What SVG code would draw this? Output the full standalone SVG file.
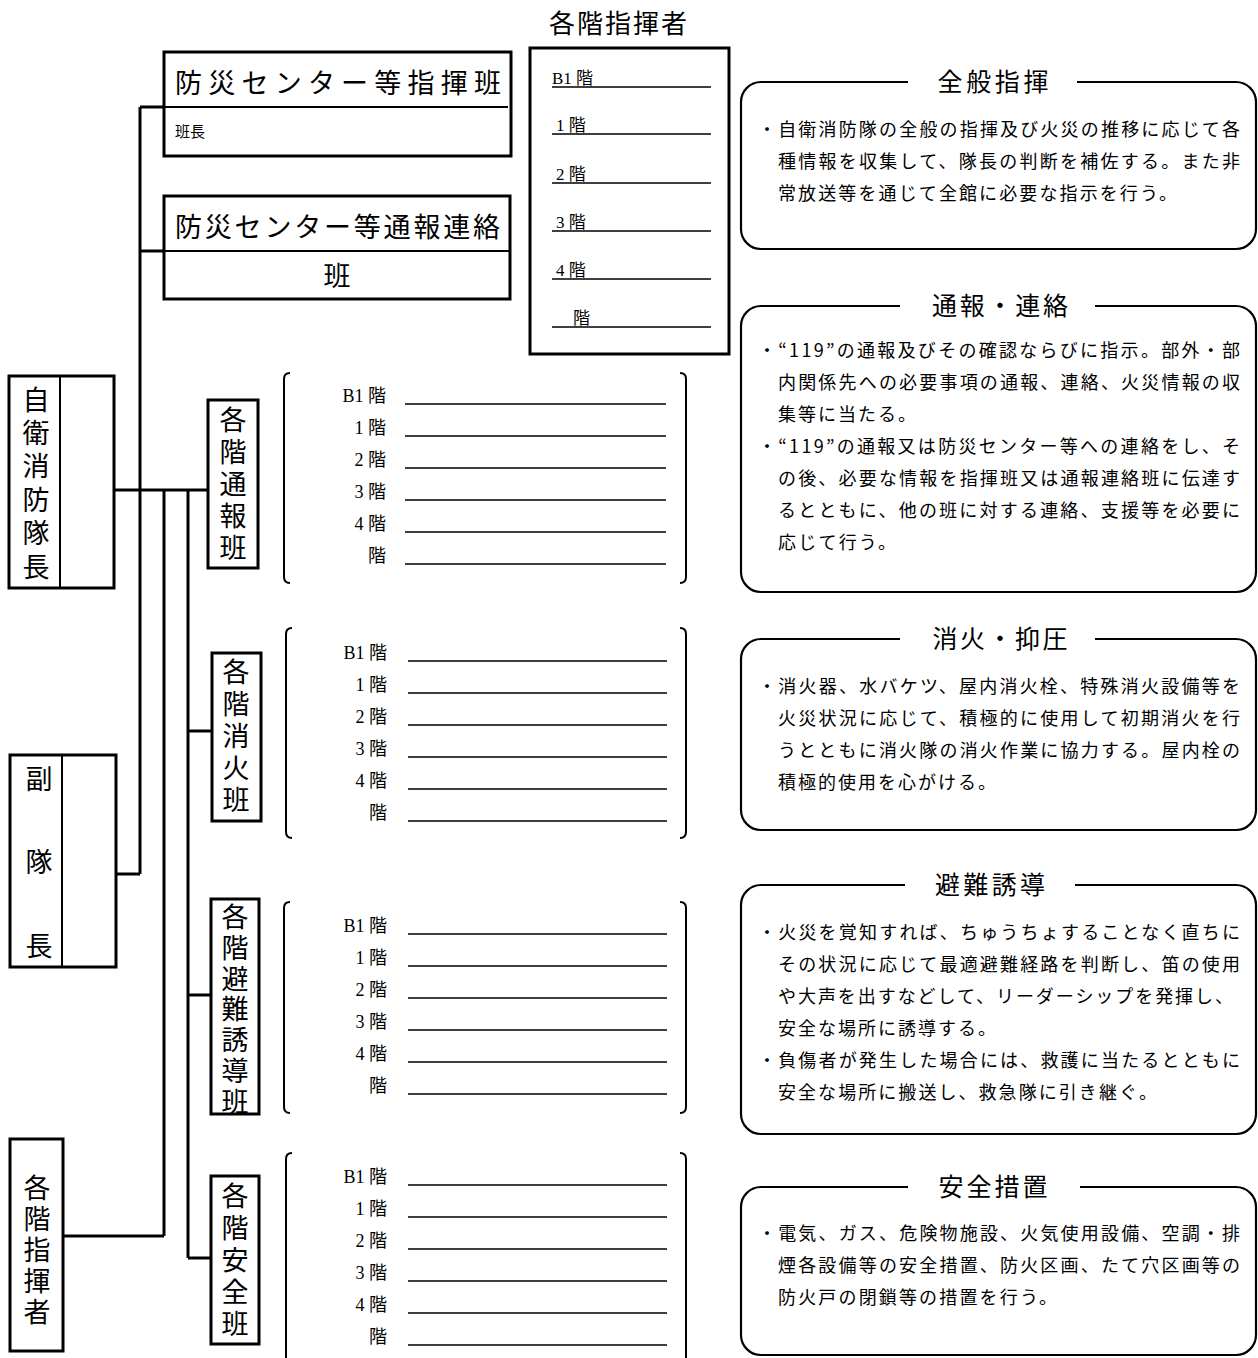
<svg xmlns="http://www.w3.org/2000/svg" width="1258" height="1358" viewBox="0 0 1258 1358">
<style>
text{font-family:"Noto Sans CJK JP",sans-serif;fill:#000}
.box{fill:#fff;stroke:#000;stroke-width:3}
.div{fill:none;stroke:#000;stroke-width:2}
.conn{fill:none;stroke:#000;stroke-width:3}
.fl{stroke:#000;stroke-width:1.5}
.br{fill:none;stroke:#000;stroke-width:2}
.rb{fill:none;stroke:#000;stroke-width:2.2}
.vt{font-size:27px;text-anchor:middle;writing-mode:vertical-rl}
.lab{font-family:"Liberation Serif","Noto Sans CJK JP",serif;font-size:18px;text-anchor:end}
.flab{font-family:"Liberation Serif","Noto Sans CJK JP",serif;font-size:17px}
.body{font-size:18px}
.ttl{font-size:25px;text-anchor:middle}
</style>

<g id="connectors">
<path class="conn" d="M114 490H208"/>
<path class="conn" d="M140 107V874"/>
<path class="conn" d="M140 107H164"/>
<path class="conn" d="M140 251H164"/>
<path class="conn" d="M116 874H140"/>
<path class="conn" d="M164 490V1236"/>
<path class="conn" d="M63 1236H164"/>
<path class="conn" d="M188 490V1258"/>
<path class="conn" d="M188 731H212"/>
<path class="conn" d="M188 995H211"/>
<path class="conn" d="M188 1258H211"/>
</g>

<g id="title-floor-commanders">
<text x="618" y="33" font-size="26" text-anchor="middle" textLength="138">各階指揮者</text>
</g>

<g id="node-center-command">
<rect class="box" x="164" y="52" width="347" height="104"/>
<path class="div" d="M164 107H508"/>
<text x="175" y="93" font-size="27" textLength="326">防災センター等指揮班</text>
<text x="175" y="137" font-size="15">班長</text>
</g>

<g id="node-center-report">
<rect class="box" x="164" y="196" width="346" height="103"/>
<path class="div" d="M164 251H510"/>
<text x="175" y="237" font-size="27" textLength="325">防災センター等通報連絡</text>
<text x="337" y="286" font-size="27" text-anchor="middle">班</text>
</g>

<g id="node-floor-commander-list">
<rect class="box" x="530" y="48" width="199" height="306"/>
<path class="fl" d="M552 87H711M552 134H711M552 183H711M552 231H711M552 279H711M552 327H711"/>
<text class="flab" x="552" y="84">B1 階</text>
<text class="flab" x="556" y="131">1 階</text>
<text class="flab" x="556" y="180">2 階</text>
<text class="flab" x="556" y="228">3 階</text>
<text class="flab" x="556" y="276">4 階</text>
<text class="flab" x="573" y="324">階</text>
</g>

<g id="node-chief">
<rect class="box" x="9" y="376" width="105" height="212"/>
<path class="div" d="M60 376V588"/>
<text class="vt" x="36" y="486" letter-spacing="6.4">自衛消防隊長</text>
</g>

<g id="node-vice-chief">
<rect class="box" x="10" y="755" width="106" height="212"/>
<path class="div" d="M62 755V967"/>
<text class="vt" x="39" y="890" letter-spacing="56.5">副隊長</text>
</g>

<g id="node-floor-commander">
<rect class="box" x="10" y="1139" width="53" height="212"/>
<text class="vt" x="37" y="1252" font-size="26" letter-spacing="4">各階指揮者</text>
</g>

<g id="node-report-team">
<rect class="box" x="208" y="400" width="50" height="168"/>
<text class="vt" x="233" y="486" letter-spacing="5">各階通報班</text>
<path class="br" d="M290 373Q284 373 284 379V577Q284 583 290 583"/>
<path class="br" d="M680 373Q686 373 686 379V577Q686 583 680 583"/>
<path class="fl" d="M405 404H666M405 436H666M405 468H666M405 500H666M405 532H666M405 564H666"/>
<text class="lab" x="386" y="402">B1 階</text>
<text class="lab" x="386" y="434">1 階</text>
<text class="lab" x="386" y="466">2 階</text>
<text class="lab" x="386" y="498">3 階</text>
<text class="lab" x="386" y="530">4 階</text>
<text class="lab" x="386" y="562">階</text>
</g>

<g id="node-fire-team">
<rect class="box" x="212" y="653" width="49" height="168"/>
<text class="vt" x="236" y="738" letter-spacing="5">各階消火班</text>
<path class="br" d="M292 628Q286 628 286 634V832Q286 838 292 838"/>
<path class="br" d="M680 628Q686 628 686 634V832Q686 838 680 838"/>
<path class="fl" d="M408 661H667M408 693H667M408 725H667M408 757H667M408 789H667M408 821H667"/>
<text class="lab" x="387" y="659">B1 階</text>
<text class="lab" x="387" y="691">1 階</text>
<text class="lab" x="387" y="723">2 階</text>
<text class="lab" x="387" y="755">3 階</text>
<text class="lab" x="387" y="787">4 階</text>
<text class="lab" x="387" y="819">階</text>
</g>

<g id="node-evac-team">
<rect class="box" x="211" y="899" width="48" height="215"/>
<text class="vt" x="235" y="1011" font-size="26" letter-spacing="3.8">各階避難誘導班</text>
<path class="br" d="M290 902Q284 902 284 908V1107Q284 1113 290 1113"/>
<path class="br" d="M680 902Q686 902 686 908V1107Q686 1113 680 1113"/>
<path class="fl" d="M408 934H667M408 966H667M408 998H667M408 1030H667M408 1062H667M408 1094H667"/>
<text class="lab" x="387" y="932">B1 階</text>
<text class="lab" x="387" y="964">1 階</text>
<text class="lab" x="387" y="996">2 階</text>
<text class="lab" x="387" y="1028">3 階</text>
<text class="lab" x="387" y="1060">4 階</text>
<text class="lab" x="387" y="1092">階</text>
</g>

<g id="node-safety-team">
<rect class="box" x="211" y="1176" width="48" height="168"/>
<text class="vt" x="235" y="1262" letter-spacing="5">各階安全班</text>
<path class="br" d="M292 1153Q286 1153 286 1159V1362"/>
<path class="br" d="M680 1153Q686 1153 686 1159V1362"/>
<path class="fl" d="M408 1185H667M408 1217H667M408 1249H667M408 1281H667M408 1313H667M408 1345H667"/>
<text class="lab" x="387" y="1183">B1 階</text>
<text class="lab" x="387" y="1215">1 階</text>
<text class="lab" x="387" y="1247">2 階</text>
<text class="lab" x="387" y="1279">3 階</text>
<text class="lab" x="387" y="1311">4 階</text>
<text class="lab" x="387" y="1343">階</text>
</g>

<g id="panel-general">
<path class="rb" d="M908 82H761A20 20 0 0 0 741 102V229A20 20 0 0 0 761 249H1236A20 20 0 0 0 1256 229V102A20 20 0 0 0 1236 82H1077"/>
<text class="ttl" x="993" y="91" textLength="111">全般指揮</text>
<text class="body" x="758" y="136" textLength="482">・自衛消防隊の全般の指揮及び火災の推移に応じて各</text>
<text class="body" x="778" y="168" textLength="462">種情報を収集して、隊長の判断を補佐する。また非</text>
<text class="body" x="778" y="200" textLength="399">常放送等を通じて全館に必要な指示を行う。</text>
</g>

<g id="panel-report">
<path class="rb" d="M900 306H761A20 20 0 0 0 741 326V572A20 20 0 0 0 761 592H1236A20 20 0 0 0 1256 572V326A20 20 0 0 0 1236 306H1095"/>
<text class="ttl" x="1000" y="315" textLength="136">通報・連絡</text>
<text class="body" x="758" y="357" textLength="482">・“119”の通報及びその確認ならびに指示。部外・部</text>
<text class="body" x="778" y="389" textLength="462">内関係先への必要事項の通報、連絡、火災情報の収</text>
<text class="body" x="778" y="421" textLength="138">集等に当たる。</text>
<text class="body" x="758" y="453" textLength="482">・“119”の通報又は防災センター等への連絡をし、そ</text>
<text class="body" x="778" y="485" textLength="462">の後、必要な情報を指揮班又は通報連絡班に伝達す</text>
<text class="body" x="778" y="517" textLength="462">るとともに、他の班に対する連絡、支援等を必要に</text>
<text class="body" x="778" y="549" textLength="118">応じて行う。</text>
</g>

<g id="panel-fire">
<path class="rb" d="M900 639H761A20 20 0 0 0 741 659V810A20 20 0 0 0 761 830H1236A20 20 0 0 0 1256 810V659A20 20 0 0 0 1236 639H1095"/>
<text class="ttl" x="1000" y="648" textLength="135">消火・抑圧</text>
<text class="body" x="758" y="693" textLength="482">・消火器、水バケツ、屋内消火栓、特殊消火設備等を</text>
<text class="body" x="778" y="725" textLength="462">火災状況に応じて、積極的に使用して初期消火を行</text>
<text class="body" x="778" y="757" textLength="462">うとともに消火隊の消火作業に協力する。屋内栓の</text>
<text class="body" x="778" y="789" textLength="218">積極的使用を心がける。</text>
</g>

<g id="panel-evac">
<path class="rb" d="M905 885H761A20 20 0 0 0 741 905V1114A20 20 0 0 0 761 1134H1236A20 20 0 0 0 1256 1114V905A20 20 0 0 0 1236 885H1075"/>
<text class="ttl" x="990" y="894" textLength="110">避難誘導</text>
<text class="body" x="758" y="939" textLength="482">・火災を覚知すれば、ちゅうちょすることなく直ちに</text>
<text class="body" x="778" y="971" textLength="462">その状況に応じて最適避難経路を判断し、笛の使用</text>
<text class="body" x="778" y="1003" textLength="455">や大声を出すなどして、リーダーシップを発揮し、</text>
<text class="body" x="778" y="1035" textLength="218">安全な場所に誘導する。</text>
<text class="body" x="758" y="1067" textLength="482">・負傷者が発生した場合には、救護に当たるとともに</text>
<text class="body" x="778" y="1099" textLength="379">安全な場所に搬送し、救急隊に引き継ぐ。</text>
</g>

<g id="panel-safety">
<path class="rb" d="M908 1187H761A20 20 0 0 0 741 1207V1335A20 20 0 0 0 761 1355H1236A20 20 0 0 0 1256 1335V1207A20 20 0 0 0 1236 1187H1080"/>
<text class="ttl" x="993" y="1196" textLength="109">安全措置</text>
<text class="body" x="758" y="1240" textLength="482">・電気、ガス、危険物施設、火気使用設備、空調・排</text>
<text class="body" x="778" y="1272" textLength="462">煙各設備等の安全措置、防火区画、たて穴区画等の</text>
<text class="body" x="778" y="1304" textLength="279">防火戸の閉鎖等の措置を行う。</text>
</g>
</svg>
